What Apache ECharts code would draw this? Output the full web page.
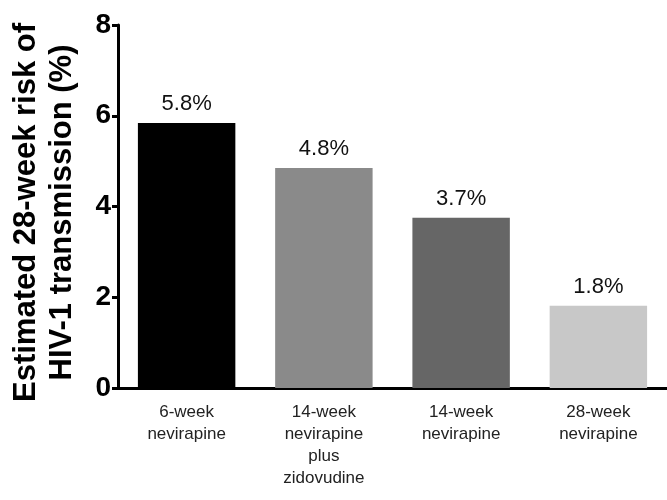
<!DOCTYPE html>
<html>
<head>
<meta charset="utf-8">
<script src="https://cdn.jsdelivr.net/npm/echarts@6/dist/echarts.min.js"></script>
<style>
html,body{margin:0;padding:0;background:#fff;}
#chart{width:667px;height:500px;}
</style>
</head>
<body>
<div id="chart"></div>
<script>
var categories = ['6-week\nnevirapine', '14-week\nnevirapine\nplus\nzidovudine', '14-week\nnevirapine', '28-week\nnevirapine'];
var values = [5.84, 4.85, 3.75, 1.81];
var valueLabels = ['5.8%', '4.8%', '3.7%', '1.8%'];
var barColors = ['#000000', '#8a8a8a', '#666666', '#c8c8c8'];
var yTicks = [0, 2, 4, 6, 8];
var yTitle = 'Estimated 28-week risk of\nHIV-1 transmission (%)';

var font = '"Liberation Sans", Arial, Helvetica, sans-serif';
var chart = echarts.init(document.getElementById('chart'), null, {renderer: 'canvas'});
chart.setOption({
  animation: false,
  backgroundColor: '#ffffff',
  grid: {left: 118, right: 0, top: 25, bottom: 112, containLabel: false, outerBoundsMode: 'none'},
  xAxis: {
    type: 'category',
    data: categories,
    boundaryGap: true,
    axisLine: {lineStyle: {color: '#000', width: 3}},
    axisTick: {show: false},
    axisLabel: {color: '#222', fontSize: 17, fontFamily: font, lineHeight: 22, margin: 13, interval: 0}
  },
  yAxis: {
    type: 'value',
    min: yTicks[0],
    max: yTicks[yTicks.length - 1],
    interval: 2,
    name: yTitle,
    nameLocation: 'middle',
    nameRotate: 90,
    nameGap: 38,
    nameTextStyle: {color: '#000', fontSize: 31, fontWeight: 'bold', fontFamily: font, lineHeight: 36, align: 'center', padding: [0, 12, 0, 0]},
    axisLine: {show: true, lineStyle: {color: '#000', width: 3}},
    axisTick: {show: true, length: 6, lineStyle: {color: '#000', width: 3}},
    splitLine: {show: false},
    axisLabel: {color: '#000', fontSize: 28, fontWeight: 'bold', fontFamily: font, margin: 7}
  },
  series: [{
    type: 'bar',
    barWidth: '71%',
    data: values.map(function (v, i) {
      return {value: v, itemStyle: {color: barColors[i]}};
    }),
    label: {
      show: true,
      position: 'top',
      distance: 8,
      color: '#111',
      fontSize: 22,
      fontFamily: font,
      formatter: function (p) { return valueLabels[p.dataIndex]; }
    }
  }]
});
</script>
</body>
</html>
